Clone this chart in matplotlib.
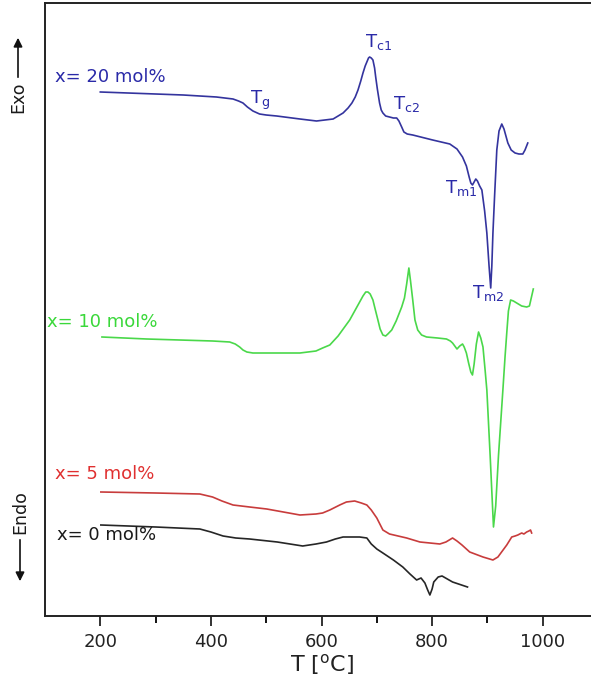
import matplotlib
matplotlib.use("Agg")
import matplotlib.pyplot as plt
from matplotlib.patches import FancyArrowPatch

plt.rcParams['font.family'] = ['DejaVu Sans']
plt.rcParams['mathtext.fontset'] = 'dejavusans'

# ---- data (temperature in degC, DTA signal in arbitrary units) ----
T_20 = [200, 250, 300, 350, 380, 410, 440, 450, 458, 466, 476, 488, 500, 519, 561, 591, 621, 630,
        639, 648, 655, 661, 666, 671, 675, 679, 682, 685, 687, 690, 693, 696, 698, 701, 705, 708,
        711, 716, 723, 730, 736, 740, 745, 749, 755, 765, 801, 832, 845, 855, 862, 867, 870, 873,
        876, 879, 882, 886, 890, 895, 899, 903, 906, 908, 910, 913, 917, 921, 926, 930, 937, 943,
        950, 957, 964, 968, 973]
S_20 = [524, 523, 522, 521, 520, 519, 517, 515, 513, 509, 505, 502, 501, 500, 497, 495, 497, 500,
        503, 508, 513, 519, 526, 535, 543, 550, 554, 558, 559, 558, 556, 548, 539, 527, 513, 506,
        503, 500, 499, 498, 498, 495, 489, 484, 482, 481, 476, 472, 467, 459, 450, 439, 433, 431,
        434, 437, 435, 430, 426, 405, 383, 350, 328, 350, 383, 420, 466, 485, 492, 487, 473, 466,
        463, 462, 462, 466, 473]

T_10 = [203, 284, 403, 434, 444, 452, 458, 465, 476, 525, 561, 590, 602, 615, 630, 651, 665, 675,
        680, 684, 688, 693, 697, 702, 706, 711, 716, 720, 727, 735, 745, 750, 754, 758, 761, 765,
        769, 774, 781, 790, 810, 826, 833, 837, 841, 845, 850, 855, 858, 862, 866, 870, 873, 876,
        880, 884, 888, 892, 896, 899, 905, 911, 915, 920, 928, 932, 935, 938, 942, 947, 953, 962,
        971, 976, 983]
S_10 = [279, 277, 275, 274, 272, 269, 266, 264, 263, 263, 263, 265, 268, 271, 280, 296, 310, 320,
        324, 324, 322, 316, 307, 296, 287, 281, 280, 282, 286, 295, 309, 318, 332, 348, 335, 316,
        296, 286, 281, 279, 278, 277, 275, 273, 270, 267, 270, 272, 269, 263, 253, 244, 241, 252,
        272, 284, 278, 269, 245, 226, 160, 89, 110, 160, 226, 260, 283, 305, 316, 315, 313, 310,
        309, 310, 327]

T_5 = [201, 300, 380, 403, 420, 440, 470, 501, 561, 590, 602, 615, 633, 645, 660, 672, 682, 690,
       700, 711, 723, 754, 778, 814, 825, 837, 845, 854, 868, 892, 910, 919, 927, 935, 944, 950,
       955, 962, 966, 971, 975, 978, 980]
S_5 = [124, 123, 122, 119, 115, 111, 109, 107, 101, 102, 103, 106, 111, 114, 115, 113, 111, 106,
       98, 86, 82, 78, 74, 72, 74, 78, 75, 71, 64, 59, 56, 59, 65, 71, 79, 80, 81, 83, 82, 84,
       85, 86, 83]

T_0 = [201, 300, 380, 400, 422, 445, 470, 520, 566, 590, 609, 625, 639, 669, 682, 690, 700, 711,
       730, 747, 760, 772, 780, 787, 792, 796, 800, 803, 811, 818, 837, 864]
S_0 = [91, 89, 87, 84, 80, 78, 77, 74, 70, 72, 74, 77, 79, 79, 78, 72, 67, 63,
       56, 49, 42, 36, 38, 33, 26, 21, 27, 34, 39, 40, 34, 29]

series_labels = ["x= 20 mol%", "x= 10 mol%", "x= 5 mol%", "x= 0 mol%"]
peak_labels = ["g", "c1", "c2", "m1", "m2"]
x_ticks = [200, 400, 600, 800, 1000]

# ---- figure ----
W, H = 591, 696
fig = plt.figure(figsize=(W / 100, H / 100), dpi=100)
ax = fig.add_axes([45 / W, 80 / H, (598 - 45) / W, (616 - 3) / H])

c_blue, c_green, c_red, c_black = '#34349e', '#4ad84a', '#c83c3c', '#262626'
lw = 1.2
ax.plot(T_20, S_20, color=c_blue, lw=lw)
ax.plot(T_10, S_10, color=c_green, lw=lw)
ax.plot(T_5, S_5, color=c_red, lw=lw)
ax.plot(T_0, S_0, color=c_black, lw=lw)

ax.set_xlim(100, 1100)
ax.set_ylim(0, 613)
ax.set_xticks(x_ticks)
ax.set_xticks([300, 500, 700, 900, 1100], minor=True)
ax.set_yticks([])
ax.tick_params(axis='x', which='major', direction='out', length=7, width=1.3,
               labelsize=13, pad=5, colors='#222222')
ax.tick_params(axis='x', which='minor', direction='out', length=5, width=1.3)
for s in ax.spines.values():
    s.set_linewidth(1.4)
    s.set_color('#222222')
ax.set_xlabel(r'T [$^{\mathrm{o}}$C]', fontsize=16, labelpad=1, color='#222222')

# series labels
lab_cols = ['#2a2aa8', '#3ad83a', '#e03030', '#1a1a1a']
lab_pos = [(118, 539), (103, 294), (118, 142), (121, 81)]
for txt, col, (x, y) in zip(series_labels, lab_cols, lab_pos):
    ax.text(x, y, txt, color=col, fontsize=13, ha='left', va='center')

# peak annotations
pk_pos = [(470, 512), (678, 569), (729, 507), (823, 423), (872, 318)]
for sub, (x, y) in zip(peak_labels, pk_pos):
    ax.text(x, y, r'T$_{\mathrm{%s}}$' % sub, color='#2a2aa8', fontsize=13,
            ha='left', va='baseline')

# Exo / Endo arrows
fig.text(18 / W, (H - 97) / H, 'Exo', rotation=90, ha='center', va='center',
         fontsize=12.5, color='#1a1a1a')
fig.add_artist(FancyArrowPatch(
    (18 / W, (H - 80) / H), (18 / W, (H - 35) / H), transform=fig.transFigure,
    arrowstyle='-|>', mutation_scale=13, lw=1.2, color='#111111'))
fig.text(20 / W, (H - 512) / H, 'Endo', rotation=90, ha='center', va='center',
         fontsize=12.5, color='#1a1a1a')
fig.add_artist(FancyArrowPatch(
    (20 / W, (H - 537) / H), (20 / W, (H - 584) / H), transform=fig.transFigure,
    arrowstyle='-|>', mutation_scale=13, lw=1.2, color='#111111'))

fig.savefig('out.png', dpi=100)
